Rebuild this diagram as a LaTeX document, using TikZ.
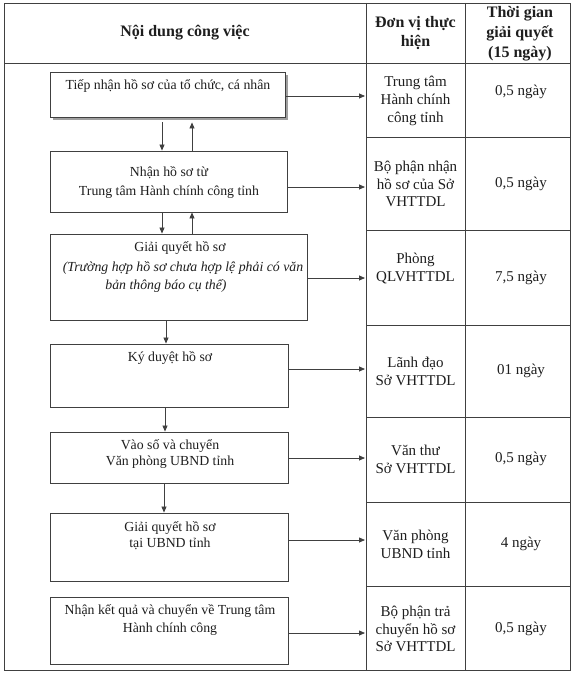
\documentclass[tikz,border=0pt]{standalone}
\usepackage{fontspec}
\setmainfont{Liberation Serif}
\usetikzlibrary{arrows.meta}
\definecolor{ln}{HTML}{404040}
\definecolor{tx}{HTML}{1E1E1E}
\begin{document}
\begin{tikzpicture}[x=1pt,y=-1pt,
  box/.style={draw=ln,line width=0.9pt,fill=white,inner sep=0pt},
  arr/.style={draw=ln,line width=0.8pt,-{Triangle[length=6pt,width=5pt]}},
  rule/.style={draw=ln,line width=0.9pt},
  bt/.style={text=tx,font=\fontsize{13.8}{19}\selectfont,align=center,inner sep=0pt},
  bti/.style={text=tx,font=\itshape\fontsize{13.8}{19}\selectfont,align=center,inner sep=0pt},
  tt/.style={text=tx,font=\fontsize{15}{18}\selectfont,align=center,inner sep=0pt},
  ht/.style={text=tx,font=\bfseries\fontsize{16}{20}\selectfont,align=center,inner sep=0pt}]
\useasboundingbox (0,0) rectangle (576,674);
\fill[white] (0,0) rectangle (576,674);
% table frame
\draw[rule] (4,3) rectangle (570,670);
\draw[rule] (366,3) -- (366,670);
\draw[rule] (465,3) -- (465,670);
\draw[rule] (4,63) -- (570,63);
\foreach \yy in {137,230,325,417,502,586} {\draw[rule] (366,\yy) -- (570,\yy);}
% header
\node[ht] (h1) at (185,33) {Nội dung công việc};
\node[ht,font=\bfseries\fontsize{16}{19}\selectfont] (h2) at (415.5,33.5) {Đơn vị thực\\hiện};
\node[ht] (h3) at (520,33.5) {Thời gian\\giải quyết\\(15 ngày)};
% shadow of first box
\fill[gray!75] (52.5,75) rectangle (288,120.5);
% boxes
\node[box,minimum width=235pt,minimum height=45pt] (b1) at (167.5,94.5) {};
\node[box,minimum width=237pt,minimum height=61pt] (b2) at (168.5,181.5) {};
\node[box,minimum width=257pt,minimum height=86pt] (b3) at (178.5,277) {};
\node[box,minimum width=238pt,minimum height=63pt] (b4) at (169,375.5) {};
\node[box,minimum width=238pt,minimum height=51pt] (b5) at (169,457.5) {};
\node[box,minimum width=238pt,minimum height=68pt] (b6) at (169,547) {};
\node[box,minimum width=238pt,minimum height=67pt] (b7) at (169,630.5) {};
% box texts
\node[bt] (t1) at (168,86) {Tiếp nhận hồ sơ của tổ chức, cá nhân};
\node[bt] (t2) at (169,182.5) {Nhận hồ sơ từ\\Trung tâm Hành chính công tỉnh};
\node[bt] (t3a) at (180,248) {Giải quyết hồ sơ};
\node[bti] (t3b) at (183,268) {(Trường hợp hồ sơ chưa hợp lệ phải có văn};
\node[bti] (t3c) at (166,286) {bản thông báo cụ thể)};
\node[bt] (t4) at (170,358) {Ký duyệt hồ sơ};
\node[bt,font=\fontsize{13.8}{16}\selectfont] (t5) at (170,454) {Vào số và chuyển\\Văn phòng UBND tỉnh};
\node[bt,font=\fontsize{13.8}{16}\selectfont] (t6) at (170,536) {Giải quyết hồ sơ\\tại UBND tỉnh};
\node[bt,font=\fontsize{13.8}{18.5}\selectfont] (t7) at (170,620) {Nhận kết quả và chuyển về Trung tâm\\Hành chính công};
% table texts
\node[tt] (u1) at (415.5,101) {Trung tâm\\Hành chính\\công tỉnh};
\node[tt] (d1) at (521,92) {0,5 ngày};
\node[tt,font=\fontsize{15}{17.5}\selectfont] (u2) at (415.5,184) {Bộ phận nhận\\hồ sơ của Sở\\VHTTDL};
\node[tt] (d2) at (521,184) {0,5 ngày};
\node[tt] (u3) at (415.5,268.5) {Phòng\\QLVHTTDL};
\node[tt] (d3) at (521,278) {7,5 ngày};
\node[tt] (u4) at (415.5,371) {Lãnh đạo\\Sở VHTTDL};
\node[tt] (d4) at (521,371) {01 ngày};
\node[tt] (u5) at (415.5,459) {Văn thư\\Sở VHTTDL};
\node[tt] (d5) at (521,459) {0,5 ngày};
\node[tt] (u6) at (415.5,544) {Văn phòng\\UBND tỉnh};
\node[tt] (d6) at (521,544) {4 ngày};
\node[tt,font=\fontsize{15}{17.5}\selectfont] (u7) at (415.5,629) {Bộ phận trả\\chuyển hồ sơ\\Sở VHTTDL};
\node[tt] (d7) at (521,629) {0,5 ngày};
% horizontal arrow ends
\coordinate (e1) at (365,96);
\coordinate (e2) at (365,187);
\coordinate (e3) at (365,278);
\coordinate (e4) at (365,369);
\coordinate (e5) at (365,458);
\coordinate (e6) at (365,540);
\coordinate (e7) at (365,633);
\draw[arr] (b1.east |- e1) -- (e1);
\draw[arr] (b2.east |- e2) -- (e2);
\draw[arr] (b3.east |- e3) -- (e3);
\draw[arr] (b4.east |- e4) -- (e4);
\draw[arr] (b5.east |- e5) -- (e5);
\draw[arr] (b6.east |- e6) -- (e6);
\draw[arr] (b7.east |- e7) -- (e7);
% vertical arrows
\coordinate (xd) at (162,0);
\coordinate (xu) at (192,0);
\coordinate (xa) at (166,0);
\coordinate (xb) at (165,0);
\coordinate (xc) at (164,0);
\draw[arr,shorten <=5pt] (b1.south -| xd) -- (b2.north -| xd);
\draw[arr,shorten >=5pt] (b2.north -| xu) -- (b1.south -| xu);
\draw[arr] (b2.south -| xd) -- (b3.north -| xd);
\draw[arr] (b3.north -| xu) -- (b2.south -| xu);
\draw[arr] (b3.south -| xa) -- (b4.north -| xa);
\draw[arr] (b4.south -| xb) -- (b5.north -| xb);
\draw[arr] (b5.south -| xc) -- (b6.north -| xc);
\end{tikzpicture}
\end{document}
